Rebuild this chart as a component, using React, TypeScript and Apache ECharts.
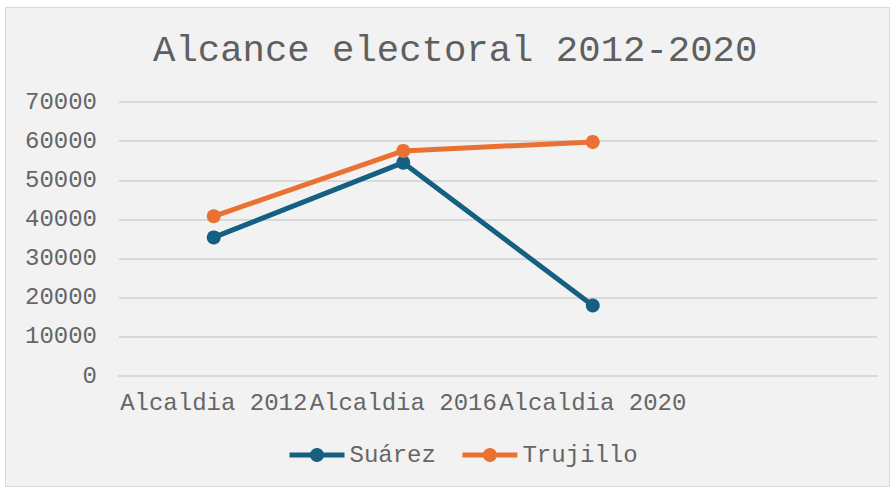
import React, { useEffect, useRef } from "react";
import * as echarts from "echarts";

const categories = ["Alcaldia 2012", "Alcaldia 2016", "Alcaldia 2020", ""];
const suarez = [35400, 54500, 18000];
const trujillo = [40800, 57500, 59800];
const yTicks = { min: 0, max: 70000, interval: 10000 };

const FONT = "'Liberation Mono', 'Courier New', monospace";
const TEXT = "#666666";

export default function App() {
  const ref = useRef<HTMLDivElement>(null);
  useEffect(() => {
    if (!ref.current) return;
    const chart = echarts.init(ref.current, null, { renderer: "svg" });
    chart.setOption({
      animation: false,
      backgroundColor: "#ffffff",
      graphic: [
        {
          type: "rect",
          z: -10,
          silent: true,
          shape: { x: 5.5, y: 7.5, width: 884, height: 479 },
          style: { fill: "#f2f2f2", stroke: "#d9d9d9", lineWidth: 1 },
        },
      ],
      title: {
        text: "Alcance electoral 2012-2020",
        left: 148,
        top: 27,
        textStyle: { fontFamily: FONT, fontSize: 37.3, fontWeight: "normal", color: "#5f5f5f" },
      },
      grid: { left: 119, right: 16, top: 102, bottom: 113, containLabel: false },
      xAxis: {
        type: "category",
        data: categories,
        boundaryGap: true,
        axisLine: { show: true, lineStyle: { color: "#d9d9d9", width: 2 } },
        axisTick: { show: false },
        axisLabel: {
          interval: 0,
          hideOverlap: false,
          margin: 15,
          fontFamily: FONT,
          fontSize: 24,
          color: TEXT,
        },
      },
      yAxis: {
        type: "value",
        min: yTicks.min,
        max: yTicks.max,
        interval: yTicks.interval,
        axisLine: { show: false },
        axisTick: { show: false },
        splitLine: { lineStyle: { color: "#d9d9d9", width: 2 } },
        axisLabel: {
          margin: 22,
          fontFamily: FONT,
          fontSize: 24,
          color: TEXT,
          formatter: (v: number) => String(v),
        },
      },
      legend: {
        left: 282,
        top: 438,
        itemWidth: 55,
        itemHeight: 17.5,
        itemGap: 24,
        lineStyle: { width: 5 },
        textStyle: { fontFamily: FONT, fontSize: 24, color: TEXT },
        data: ["Suárez", "Trujillo"],
      },
      series: [
        {
          name: "Suárez",
          type: "line",
          data: suarez,
          symbol: "circle",
          symbolSize: 14,
          lineStyle: { width: 5, color: "#156082" },
          itemStyle: { color: "#156082" },
        },
        {
          name: "Trujillo",
          type: "line",
          data: trujillo,
          symbol: "circle",
          symbolSize: 14,
          lineStyle: { width: 5, color: "#E97132" },
          itemStyle: { color: "#E97132" },
        },
      ],
    });
    return () => chart.dispose();
  }, []);
  return (
    <div
      ref={ref}
      style={{ position: "fixed", left: 0, top: 0, width: 893, height: 489 }}
    />
  );
}
